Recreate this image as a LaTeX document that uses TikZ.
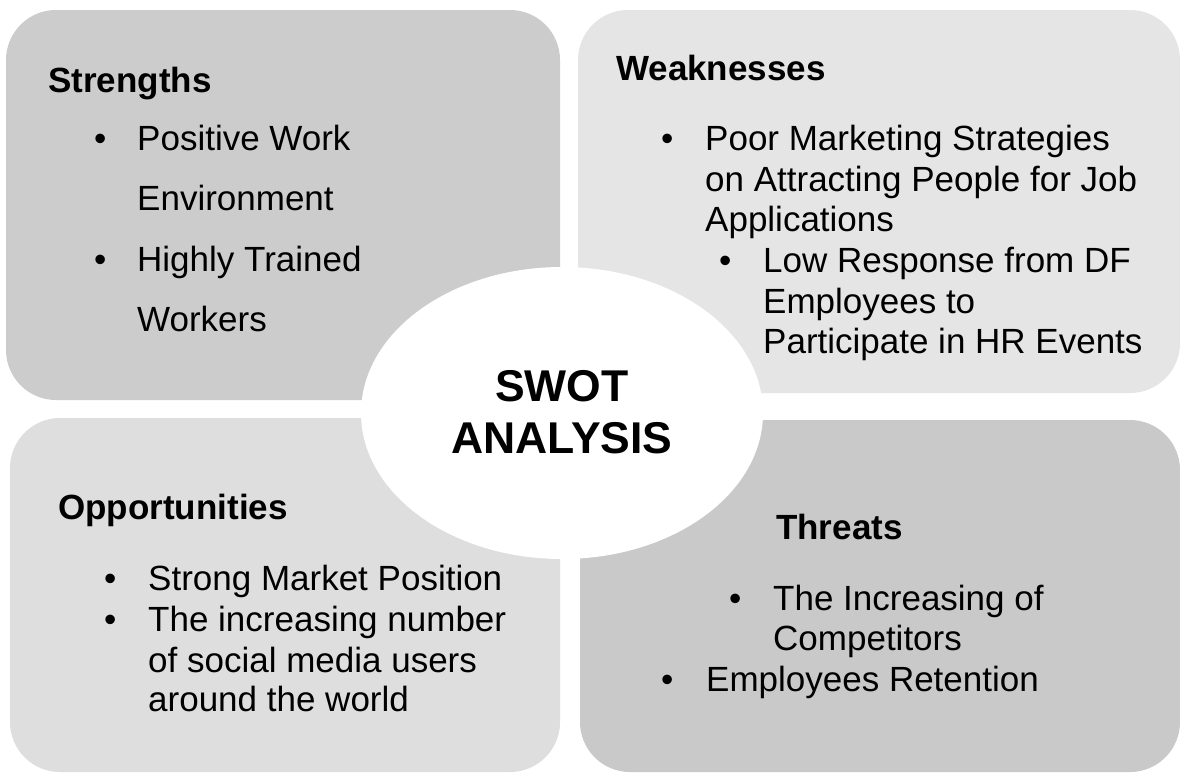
\documentclass[tikz,border=0pt]{standalone}
\usepackage{fontspec}
\setmainfont{Liberation Sans}
\usetikzlibrary{shapes.geometric}
\begin{document}
\begin{tikzpicture}[x=1pt,y=-1pt,
  quad/.style={rounded corners=50pt},
  body/.style={anchor=base west,inner sep=0pt,font=\fontsize{35}{41}\selectfont},
  head/.style={body,font=\fontsize{35}{41}\selectfont\bfseries},
  dot/.style={body}]
\useasboundingbox (0,0) rectangle (1180,779);
\fill[white] (0,0) rectangle (1180,779);
\definecolor{sgray}{gray}{0.80}
\definecolor{wgray}{gray}{0.90}
\definecolor{ogray}{gray}{0.87}
\definecolor{tgray}{gray}{0.79}
% four quadrants
\fill[sgray,quad] (6,10) rectangle (560,400);
\fill[wgray,quad] (578,10) rectangle (1180,393);
\fill[ogray,quad] (10,418) rectangle (560,772);
\fill[tgray,quad] (580,420) rectangle (1180,772);
% centre
\node[ellipse,fill=white,minimum width=402pt,minimum height=292pt,inner sep=0pt] (c) at (562,413) {};
\node[align=center,inner sep=0pt,font=\fontsize{44.5}{52}\selectfont\bfseries] (ct) at (562,412) {SWOT\\ANALYSIS};
% Strengths
\node[head] (sh) at (48,92) {Strengths};
\node[dot] (sb1) at (94,150) {•};
\node[body] (s1) at (137,150) {Positive Work};
\node[body] (s2) at (137,210) {Environment};
\node[dot] (sb2) at (94,271) {•};
\node[body] (s3) at (137,271) {Highly Trained};
\node[body] (s4) at (137,331) {Workers};
% Weaknesses
\node[head] (wh) at (616,80) {Weaknesses};
\node[dot] (wb1) at (661,150) {•};
\node[body] (w1) at (705,150) {Poor Marketing Strategies};
\node[body] (w2) at (705,191) {on Attracting People for Job};
\node[body] (w3) at (705,231) {Applications};
\node[dot] (wb2) at (719,272) {•};
\node[body] (w4) at (763,272) {Low Response from DF};
\node[body] (w5) at (763,313) {Employees to};
\node[body] (w6) at (763,353) {Participate in HR Events};
% Opportunities
\node[head] (oh) at (58,519) {Opportunities};
\node[dot] (ob1) at (104,590) {•};
\node[body] (o1) at (148,590) {Strong Market Position};
\node[dot] (ob2) at (104,631) {•};
\node[body] (o2) at (148,631) {The increasing number};
\node[body] (o3) at (148,672) {of social media users};
\node[body] (o4) at (148,711) {around the world};
% Threats
\node[head] (th) at (776,539) {Threats};
\node[dot] (tb1) at (729,610) {•};
\node[body] (t1) at (773,610) {The Increasing of};
\node[body] (t2) at (773,650) {Competitors};
\node[dot] (tb2) at (661,691) {•};
\node[body] (t3) at (706,691) {Employees Retention};
\end{tikzpicture}
\end{document}
